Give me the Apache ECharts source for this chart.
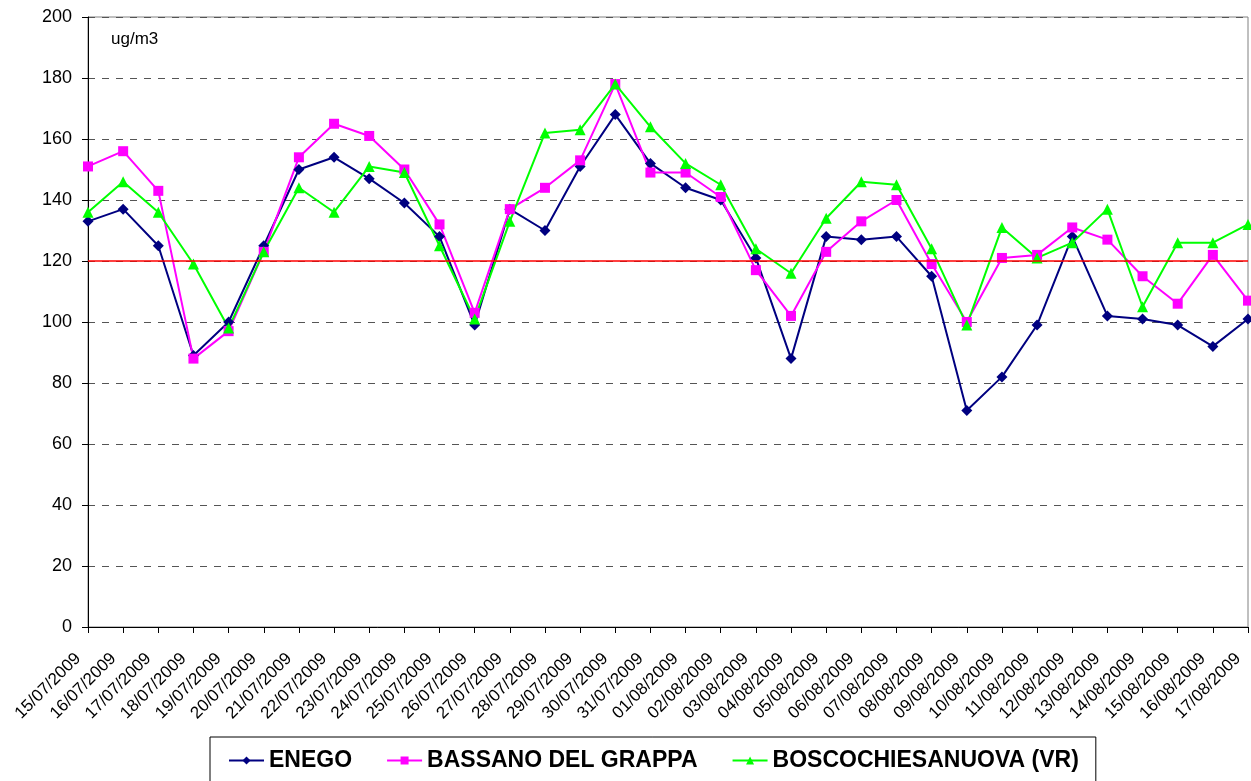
<!DOCTYPE html>
<html>
<head>
<meta charset="utf-8">
<script src="https://cdn.jsdelivr.net/npm/echarts@6/dist/echarts.min.js"></script>
<style>
  html, body { margin: 0; padding: 0; background: #fff; }
  #chart { width: 1251px; height: 781px; }
</style>
</head>
<body>
<div id="chart"></div>
<script>
  // giorni del periodo
  const dates = [
    '15/07/2009', '16/07/2009', '17/07/2009', '18/07/2009', '19/07/2009', '20/07/2009',
    '21/07/2009', '22/07/2009', '23/07/2009', '24/07/2009', '25/07/2009', '26/07/2009',
    '27/07/2009', '28/07/2009', '29/07/2009', '30/07/2009', '31/07/2009', '01/08/2009',
    '02/08/2009', '03/08/2009', '04/08/2009', '05/08/2009', '06/08/2009', '07/08/2009',
    '08/08/2009', '09/08/2009', '10/08/2009', '11/08/2009', '12/08/2009', '13/08/2009',
    '14/08/2009', '15/08/2009', '16/08/2009', '17/08/2009'
  ];

  const enego = [133, 137, 125, 89, 100, 125, 150, 154, 147, 139, 128, 99, 137, 130, 151, 168, 152,
                 144, 140, 121, 88, 128, 127, 128, 115, 71, 82, 99, 128, 102, 101, 99, 92, 101];
  const bassano = [151, 156, 143, 88, 97, 123, 154, 165, 161, 150, 132, 103, 137, 144, 153, 178, 149,
                   149, 141, 117, 102, 123, 133, 140, 119, 100, 121, 122, 131, 127, 115, 106, 122, 107];
  const bosco = [136, 146, 136, 119, 98, 123, 144, 136, 151, 149, 125, 101, 133, 162, 163, 178, 164,
                 152, 145, 124, 116, 134, 146, 145, 124, 99, 131, 121, 126, 137, 105, 126, 126, 132];

  const soglia = 120;
  const yTicks = { min: 0, max: 200, step: 20 };

  const font = 'Liberation Sans, Arial, sans-serif';
  const chart = echarts.init(document.getElementById('chart'));

  function serie(name, data, color, symbol, size) {
    return {
      name: name,
      type: 'line',
      data: data,
      symbol: symbol,
      symbolSize: size,
      showAllSymbol: true,
      lineStyle: { color: color, width: 2 },
      itemStyle: { color: color },
      emphasis: { disabled: true }
    };
  }

  const series = [
    serie('ENEGO', enego, '#000080', 'diamond', 11),
    serie('BASSANO DEL GRAPPA', bassano, '#FF00FF', 'rect', 10),
    serie('BOSCOCHIESANUOVA (VR)', bosco, '#00FF00', 'triangle', 11)
  ];
  // soglia 120 ug/m3
  series[0].markLine = {
    silent: true,
    symbol: 'none',
    label: { show: false },
    lineStyle: { color: '#FF0000', width: 1.5, type: 'solid' },
    data: [{ yAxis: soglia }]
  };

  const option = {
    animation: false,
    backgroundColor: '#fff',
    grid: {
      left: 88, right: 3, top: 17, bottom: 154,
      outerBoundsMode: 'none',
      show: true, borderColor: '#808080', borderWidth: 1
    },
    graphic: [{
      type: 'text', left: 111, top: 31,
      style: { text: 'ug/m3', font: '17px ' + font, fill: '#000' }
    }],
    legend: {
      left: 210, top: 737,
      padding: [12, 17, 12, 18],
      itemGap: 34,
      itemWidth: 35,
      itemHeight: 10,
      borderColor: '#000', borderWidth: 1,
      textStyle: { fontFamily: font, fontSize: 23, fontWeight: 'bold', color: '#000' },
      data: ['ENEGO', 'BASSANO DEL GRAPPA', 'BOSCOCHIESANUOVA (VR)']
    },
    xAxis: {
      type: 'category',
      data: dates,
      boundaryGap: false,
      axisLine: { lineStyle: { color: '#000', width: 1 } },
      axisTick: { show: true, inside: false, length: 6, alignWithLabel: true, lineStyle: { color: '#000' } },
      axisLabel: {
        rotate: 45, interval: 0, margin: 19, padding: [0, 14, 0, 0],
        fontFamily: font, fontSize: 17, color: '#000'
      },
      splitLine: { show: false }
    },
    yAxis: {
      type: 'value',
      min: yTicks.min, max: yTicks.max, interval: yTicks.step,
      axisLine: { show: true, lineStyle: { color: '#000', width: 1 } },
      axisTick: { show: true, length: 6, lineStyle: { color: '#000' } },
      axisLabel: { margin: 16, fontFamily: font, fontSize: 18, color: '#000' },
      splitLine: { show: true, lineStyle: { color: '#555', type: [7, 7], width: 1 } }
    },
    series: series
  };

  chart.setOption(option);
</script>
</body>
</html>
